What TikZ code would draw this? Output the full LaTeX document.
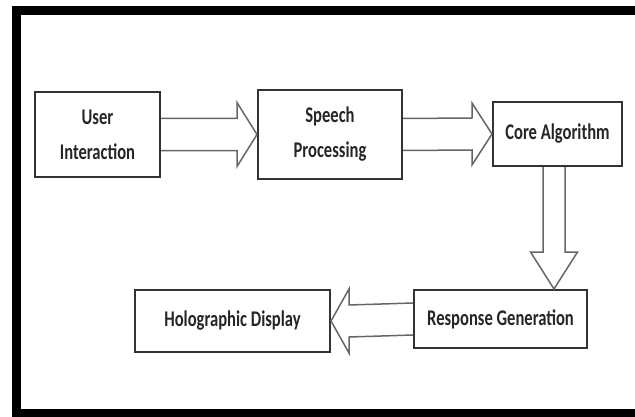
\documentclass[tikz,border=0pt]{standalone}
\usepackage{fontspec}
\setmainfont{Carlito}[FakeStretch=0.74]
\usetikzlibrary{calc}
\definecolor{boxline}{HTML}{333333}
\definecolor{arrowline}{HTML}{666666}
\tikzset{
  block/.style={draw=boxline, line width=2pt, fill=white, inner sep=0pt, align=center,
    font=\fontsize{22.4}{35}\selectfont\bfseries, text=black!85},
  barrow/.style={draw=arrowline, line width=1.5pt, line join=miter},
}
\begin{document}
\begin{tikzpicture}[x=1pt,y=1pt]
  \useasboundingbox (0,0) rectangle (635,416);
  \draw[line width=9pt] (16,2.5) rectangle (650,405);
  % top row
  \node[block, minimum width=125pt, minimum height=85pt] (ui) at (97.5,281.5) {User\\Interaction};
  \node[block, minimum width=144pt, minimum height=89pt] (sp) at (330,281.5) {Speech\\Processing};
  \node[block, minimum width=129pt, minimum height=64pt] (core) at (557.5,282) {Core Algorithm};
  % bottom row
  \node[block, minimum width=173pt, minimum height=58pt] (rg) at (500.5,97) {Response Generation};
  \node[block, minimum width=195pt, minimum height=62pt] (hd) at (232.5,95) {Holographic Display};
  % block arrows
  \draw[barrow] ($(ui.east)+(0,16)$) -- ($(sp.west)+(-20,16)$) -- ($(sp.west)+(-20,32)$) -- (sp.west)
    -- ($(sp.west)+(-20,-32)$) -- ($(sp.west)+(-20,-16)$) -- ($(ui.east)+(0,-16)$);
  \draw[barrow] ($(sp.east)+(0,16)$) -- ($(core.west)+(-20,16)$) -- ($(core.west)+(-20,31)$) -- (core.west)
    -- ($(core.west)+(-20,-31)$) -- ($(core.west)+(-20,-16)$) -- ($(sp.east)+(0,-16)$);
  \coordinate (dtop) at ($(core.south)+(-3.5,0)$);
  \coordinate (dtip) at (dtop |- rg.north);
  \draw[barrow] ($(dtop)+(-11,0)$) -- ($(dtip)+(-11,37)$) -- ($(dtip)+(-23.5,37)$) -- (dtip)
    -- ($(dtip)+(23.5,37)$) -- ($(dtip)+(11,37)$) -- ($(dtop)+(11,0)$);
  \draw[barrow] ($(rg.west)+(0,16)$) -- ($(hd.east)+(18,16)$) -- ($(hd.east)+(18,32)$) -- (hd.east)
    -- ($(hd.east)+(18,-32)$) -- ($(hd.east)+(18,-16)$) -- ($(rg.west)+(0,-16)$);
\end{tikzpicture}
\end{document}
